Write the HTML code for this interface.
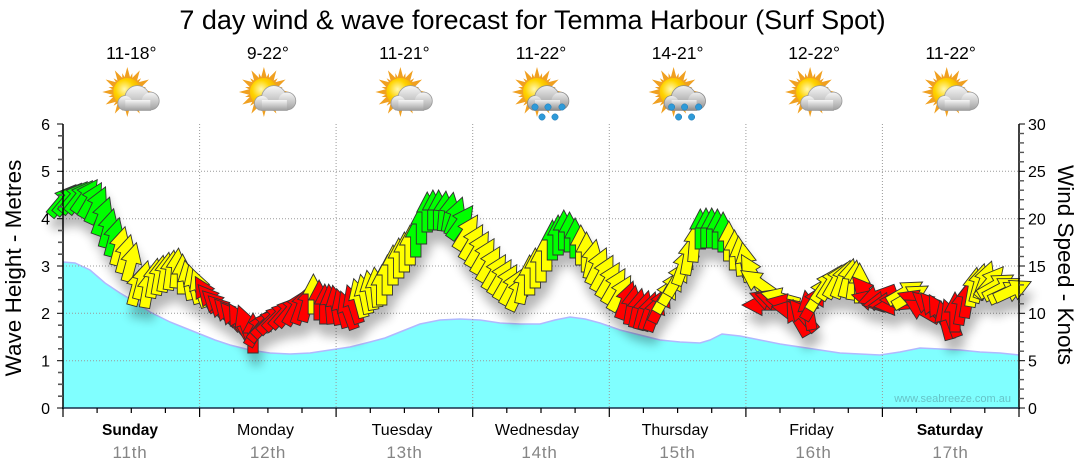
<!DOCTYPE html>
<html><head><meta charset="utf-8">
<style>
html,body{margin:0;padding:0;background:#fff;}
svg{display:block;}
text{font-family:"Liberation Sans",Arial,sans-serif;}
.g{fill:#00ff00}.y{fill:#ffff00}.r{fill:#ff0000}
</style></head><body>
<svg width="1080" height="475" viewBox="0 0 1080 475" xmlns="http://www.w3.org/2000/svg">
<defs>
<path id="a" d="M0,-20L10.5,0L5.2,0L5.2,20L-5.2,20L-5.2,0L-10.5,0Z"/>
<filter id="sh" x="-10%" y="-30%" width="120%" height="180%">
<feGaussianBlur in="SourceAlpha" stdDeviation="5"/>
<feOffset dx="3" dy="12" result="o"/>
<feComponentTransfer><feFuncA type="linear" slope="0.28"/></feComponentTransfer>
<feMerge><feMergeNode/><feMergeNode in="SourceGraphic"/></feMerge>
</filter>
<radialGradient id="sun" cx="0.4" cy="0.4" r="0.65"><stop offset="0" stop-color="#fff8b0"/><stop offset="0.5" stop-color="#ffd400"/><stop offset="1" stop-color="#f2a000"/></radialGradient>
<linearGradient id="cl" x1="0" y1="0" x2="0" y2="1"><stop offset="0" stop-color="#f6f6f6"/><stop offset="1" stop-color="#a2a2a2"/></linearGradient>
<linearGradient id="cl2" x1="0" y1="0" x2="0" y2="1"><stop offset="0" stop-color="#eeeeee"/><stop offset="1" stop-color="#8e8e8e"/></linearGradient>
<polygon id="st" points="0,-25 3.36,-12.56 12.5,-21.65 9.19,-9.19 21.65,-12.5 12.56,-3.36 25,0 12.56,3.36 21.65,12.5 9.19,9.19 12.5,21.65 3.36,12.56 0,25 -3.36,12.56 -12.5,21.65 -9.19,9.19 -21.65,12.5 -12.56,3.36 -25,0 -12.56,-3.36 -21.65,-12.5 -9.19,-9.19 -12.5,-21.65 -3.36,-12.56"/>
<g id="sunp">
<g transform="translate(-4,92)" fill="#f0a020">
<use href="#st"/>
<use href="#st" transform="rotate(15) scale(0.78)"/>
<circle r="14" fill="url(#sun)"/>
</g>
</g>
<g id="cld">
<circle cx="6" cy="98" r="12"/>
<circle cx="19" cy="101" r="8.5"/>
<circle cx="-6" cy="103" r="7"/>
<rect x="-6" y="100" width="25" height="10"/>
</g>
<g id="ic">
<use href="#sunp"/>
<use href="#cld" fill="#9a9a9a" stroke="#9a9a9a" stroke-width="1.6"/>
<use href="#cld" fill="url(#cl)"/>
</g>
<g id="icr">
<use href="#sunp"/>
<use href="#cld" fill="#8a8a8a" stroke="#8a8a8a" stroke-width="1.6"/>
<use href="#cld" fill="url(#cl2)"/>
<g fill="#2e9ad8" stroke="#1f78b4" stroke-width="0.5">
<circle cx="-6" cy="107" r="3.2"/><circle cx="7" cy="107" r="3.2"/><circle cx="21" cy="107" r="3.2"/>
<circle cx="1" cy="117" r="3.2"/><circle cx="14" cy="117" r="3.2"/>
</g>
</g>
</defs>

<!-- title -->
<text x="532.5" y="29" font-size="27" text-anchor="middle" fill="#000">7 day wind &amp; wave forecast for Temma Harbour (Surf Spot)</text>

<!-- temps -->
<g font-size="17.5" text-anchor="middle" fill="#000">
<text x="131.3" y="59">11-18°</text>
<text x="267.9" y="59">9-22°</text>
<text x="404.4" y="59">11-21°</text>
<text x="541" y="59">11-22°</text>
<text x="677.6" y="59">14-21°</text>
<text x="814.1" y="59">12-22°</text>
<text x="950.7" y="59">11-22°</text>
</g>

<!-- icons -->
<use href="#ic" x="131.3"/>
<use href="#ic" x="267.9"/>
<use href="#ic" x="404.4"/>
<use href="#icr" x="541"/>
<use href="#icr" x="677.6"/>
<use href="#ic" x="814.1"/>
<use href="#ic" x="950.7"/>

<!-- wave area -->
<path d="M63,262 L75,263 L90,270 L105,283 L120,293 L135,302 L150,312 L170,322 L185,328 L200,334 L215,340 L230,345 L250,350 L270,353 L290,354 L310,353 L330,350 L350,347 L370,342 L385,338 L400,332 L420,324 L440,320 L460,319 L480,320 L500,323 L520,324 L540,324 L555,320 L570,317 L585,319 L600,323 L620,330 L640,335 L660,340 L680,342 L700,343 L710,340 L722,334 L740,336 L760,340 L780,344 L800,347 L820,350 L840,353 L860,354 L880,355 L900,352 L920,348 L940,349 L960,350 L980,352 L1000,353 L1019,355 L1019,408 L63,408 Z" fill="#80ffff"/>
<polyline points="63,262 75,263 90,270 105,283 120,293 135,302 150,312 170,322 185,328 200,334 215,340 230,345 250,350 270,353 290,354 310,353 330,350 350,347 370,342 385,338 400,332 420,324 440,320 460,319 480,320 500,323 520,324 540,324 555,320 570,317 585,319 600,323 620,330 640,335 660,340 680,342 700,343 710,340 722,334 740,336 760,340 780,344 800,347 820,350 840,353 860,354 880,355 900,352 920,348 940,349 960,350 980,352 1000,353 1019,355" fill="none" stroke="#b0b8ff" stroke-width="1.5"/>

<!-- watermark -->
<text x="1011" y="402" font-size="11" text-anchor="end" fill="#66c4c8">www.seabreeze.com.au</text>

<!-- gridlines -->
<g stroke="#9a9a9a" stroke-width="1" stroke-dasharray="1,2" fill="none">
<line x1="63" y1="171.3" x2="1019" y2="171.3"/>
<line x1="63" y1="218.7" x2="1019" y2="218.7"/>
<line x1="63" y1="266" x2="1019" y2="266"/>
<line x1="63" y1="313.3" x2="1019" y2="313.3"/>
<line x1="63" y1="360.7" x2="1019" y2="360.7"/>
<line x1="199.6" y1="124" x2="199.6" y2="408"/>
<line x1="336.1" y1="124" x2="336.1" y2="408"/>
<line x1="472.7" y1="124" x2="472.7" y2="408"/>
<line x1="609.3" y1="124" x2="609.3" y2="408"/>
<line x1="745.9" y1="124" x2="745.9" y2="408"/>
<line x1="882.4" y1="124" x2="882.4" y2="408"/>
</g>

<!-- wind arrows -->
<g filter="url(#sh)" stroke="#333" stroke-width="0.9" stroke-linejoin="miter">
<use href="#a" class="g" transform="translate(63,200) rotate(40)"/>
<use href="#a" class="g" transform="translate(68.7,198.5) rotate(40)"/>
<use href="#a" class="g" transform="translate(74.4,197) rotate(40)"/>
<use href="#a" class="g" transform="translate(80.1,196.5) rotate(38)"/>
<use href="#a" class="g" transform="translate(85.8,196) rotate(35)"/>
<use href="#a" class="g" transform="translate(91.5,200) rotate(30)"/>
<use href="#a" class="g" transform="translate(97.1,205) rotate(25)"/>
<use href="#a" class="g" transform="translate(102.8,216) rotate(20)"/>
<use href="#a" class="g" transform="translate(108.5,228) rotate(15)"/>
<use href="#a" class="g" transform="translate(114.2,237) rotate(15)"/>
<use href="#a" class="y" transform="translate(119.9,246) rotate(15)"/>
<use href="#a" class="y" transform="translate(125.6,254) rotate(15)"/>
<use href="#a" class="y" transform="translate(131.3,262) rotate(15)"/>
<use href="#a" class="y" transform="translate(137,286) rotate(15)"/>
<use href="#a" class="y" transform="translate(142.7,280) rotate(15)"/>
<use href="#a" class="y" transform="translate(148,288) rotate(10)"/>
<use href="#a" class="y" transform="translate(154,278) rotate(10)"/>
<use href="#a" class="y" transform="translate(159.7,275) rotate(10)"/>
<use href="#a" class="y" transform="translate(165.4,272) rotate(10)"/>
<use href="#a" class="y" transform="translate(171.1,270) rotate(8)"/>
<use href="#a" class="y" transform="translate(176.8,268) rotate(5)"/>
<use href="#a" class="y" transform="translate(182.5,274) rotate(0)"/>
<use href="#a" class="y" transform="translate(188.2,280) rotate(-10)"/>
<use href="#a" class="y" transform="translate(193.9,284) rotate(-15)"/>
<use href="#a" class="y" transform="translate(199.6,288) rotate(-20)"/>
<use href="#a" class="r" transform="translate(205.3,294) rotate(-30)"/>
<use href="#a" class="r" transform="translate(211,300) rotate(-40)"/>
<use href="#a" class="r" transform="translate(216.6,305) rotate(-45)"/>
<use href="#a" class="r" transform="translate(222.3,310) rotate(-45)"/>
<use href="#a" class="r" transform="translate(228,314) rotate(-42)"/>
<use href="#a" class="r" transform="translate(233.7,318) rotate(-40)"/>
<use href="#a" class="r" transform="translate(239.4,321) rotate(-30)"/>
<use href="#a" class="r" transform="translate(245.1,324) rotate(-20)"/>
<use href="#a" class="r" transform="translate(253,333) rotate(0)"/>
<use href="#a" class="r" transform="translate(258,328) rotate(30)"/>
<use href="#a" class="r" transform="translate(263,325) rotate(40)"/>
<use href="#a" class="r" transform="translate(267.9,322) rotate(45)"/>
<use href="#a" class="r" transform="translate(273.5,318) rotate(45)"/>
<use href="#a" class="r" transform="translate(279.2,315) rotate(45)"/>
<use href="#a" class="r" transform="translate(285,312) rotate(42)"/>
<use href="#a" class="r" transform="translate(290.6,310) rotate(40)"/>
<use href="#a" class="r" transform="translate(296.3,307) rotate(30)"/>
<use href="#a" class="r" transform="translate(302,305) rotate(20)"/>
<use href="#a" class="r" transform="translate(307.7,302) rotate(15)"/>
<use href="#a" class="y" transform="translate(313.4,294) rotate(0)"/>
<use href="#a" class="r" transform="translate(319.1,300) rotate(0)"/>
<use href="#a" class="r" transform="translate(324.8,304) rotate(0)"/>
<use href="#a" class="r" transform="translate(330.4,304) rotate(-5)"/>
<use href="#a" class="r" transform="translate(336.1,305) rotate(-10)"/>
<use href="#a" class="r" transform="translate(341.8,308) rotate(-15)"/>
<use href="#a" class="r" transform="translate(347.5,310) rotate(-20)"/>
<use href="#a" class="r" transform="translate(353.2,304) rotate(-18)"/>
<use href="#a" class="y" transform="translate(358.9,298) rotate(-15)"/>
<use href="#a" class="y" transform="translate(364.6,294) rotate(-12)"/>
<use href="#a" class="y" transform="translate(370.3,290) rotate(-10)"/>
<use href="#a" class="y" transform="translate(376,287) rotate(-5)"/>
<use href="#a" class="y" transform="translate(381.7,285) rotate(0)"/>
<use href="#a" class="y" transform="translate(387.3,275) rotate(0)"/>
<use href="#a" class="y" transform="translate(393,265) rotate(0)"/>
<use href="#a" class="y" transform="translate(398.7,258) rotate(0)"/>
<use href="#a" class="y" transform="translate(404.4,252) rotate(0)"/>
<use href="#a" class="y" transform="translate(410.1,245) rotate(0)"/>
<use href="#a" class="g" transform="translate(415.8,237) rotate(0)"/>
<use href="#a" class="g" transform="translate(421.5,224) rotate(0)"/>
<use href="#a" class="g" transform="translate(427.2,212) rotate(0)"/>
<use href="#a" class="g" transform="translate(432.9,210) rotate(0)"/>
<use href="#a" class="g" transform="translate(438.6,210) rotate(0)"/>
<use href="#a" class="g" transform="translate(444.2,211) rotate(5)"/>
<use href="#a" class="g" transform="translate(449.9,212) rotate(10)"/>
<use href="#a" class="g" transform="translate(455.6,216) rotate(20)"/>
<use href="#a" class="g" transform="translate(461.3,222) rotate(35)"/>
<use href="#a" class="y" transform="translate(467,232) rotate(32)"/>
<use href="#a" class="y" transform="translate(472.7,242) rotate(30)"/>
<use href="#a" class="y" transform="translate(478.4,249) rotate(30)"/>
<use href="#a" class="y" transform="translate(484.1,256) rotate(30)"/>
<use href="#a" class="y" transform="translate(489.8,264) rotate(30)"/>
<use href="#a" class="y" transform="translate(495.5,272) rotate(30)"/>
<use href="#a" class="y" transform="translate(501.1,277) rotate(30)"/>
<use href="#a" class="y" transform="translate(506.8,282) rotate(30)"/>
<use href="#a" class="y" transform="translate(512.5,287) rotate(28)"/>
<use href="#a" class="y" transform="translate(518.2,292) rotate(25)"/>
<use href="#a" class="y" transform="translate(523.9,284) rotate(12)"/>
<use href="#a" class="y" transform="translate(529.6,275) rotate(0)"/>
<use href="#a" class="y" transform="translate(535.3,268) rotate(0)"/>
<use href="#a" class="y" transform="translate(541,262) rotate(0)"/>
<use href="#a" class="y" transform="translate(546.7,251) rotate(0)"/>
<use href="#a" class="g" transform="translate(552.4,240) rotate(0)"/>
<use href="#a" class="g" transform="translate(558.1,235) rotate(0)"/>
<use href="#a" class="g" transform="translate(563.8,230) rotate(0)"/>
<use href="#a" class="g" transform="translate(569.5,232) rotate(0)"/>
<use href="#a" class="g" transform="translate(575.1,238) rotate(0)"/>
<use href="#a" class="y" transform="translate(580.8,245) rotate(0)"/>
<use href="#a" class="y" transform="translate(586.5,252) rotate(0)"/>
<use href="#a" class="y" transform="translate(592.2,259) rotate(12)"/>
<use href="#a" class="y" transform="translate(597.9,266) rotate(25)"/>
<use href="#a" class="y" transform="translate(603.6,273) rotate(28)"/>
<use href="#a" class="y" transform="translate(609.3,280) rotate(30)"/>
<use href="#a" class="y" transform="translate(615,286) rotate(30)"/>
<use href="#a" class="y" transform="translate(620.7,293) rotate(30)"/>
<use href="#a" class="r" transform="translate(626.3,300) rotate(20)"/>
<use href="#a" class="r" transform="translate(632,305) rotate(10)"/>
<use href="#a" class="r" transform="translate(637.7,308) rotate(12)"/>
<use href="#a" class="r" transform="translate(643.4,310) rotate(15)"/>
<use href="#a" class="r" transform="translate(649.1,311) rotate(18)"/>
<use href="#a" class="r" transform="translate(654.8,312) rotate(20)"/>
<use href="#a" class="r" transform="translate(660.5,304) rotate(25)"/>
<use href="#a" class="y" transform="translate(666.2,295) rotate(30)"/>
<use href="#a" class="y" transform="translate(671.9,287) rotate(30)"/>
<use href="#a" class="y" transform="translate(677.6,278) rotate(30)"/>
<use href="#a" class="y" transform="translate(683.2,266) rotate(20)"/>
<use href="#a" class="y" transform="translate(688.9,255) rotate(10)"/>
<use href="#a" class="y" transform="translate(694.6,242) rotate(5)"/>
<use href="#a" class="g" transform="translate(700.3,229) rotate(0)"/>
<use href="#a" class="g" transform="translate(706,228) rotate(0)"/>
<use href="#a" class="g" transform="translate(711.7,228) rotate(0)"/>
<use href="#a" class="g" transform="translate(717.4,229) rotate(0)"/>
<use href="#a" class="g" transform="translate(723.1,232) rotate(0)"/>
<use href="#a" class="y" transform="translate(728.8,241) rotate(0)"/>
<use href="#a" class="y" transform="translate(734.5,250) rotate(0)"/>
<use href="#a" class="y" transform="translate(740.1,256) rotate(-5)"/>
<use href="#a" class="y" transform="translate(745.8,262) rotate(-10)"/>
<use href="#a" class="y" transform="translate(751.5,272) rotate(-30)"/>
<use href="#a" class="y" transform="translate(757.2,282) rotate(-55)"/>
<use href="#a" class="r" transform="translate(762,305) rotate(-90)"/>
<use href="#a" class="r" transform="translate(768.6,300) rotate(-70)"/>
<use href="#a" class="r" transform="translate(774.3,300) rotate(-72)"/>
<use href="#a" class="y" transform="translate(780,298) rotate(-75)"/>
<use href="#a" class="r" transform="translate(785.7,304) rotate(-78)"/>
<use href="#a" class="r" transform="translate(791.4,310) rotate(-80)"/>
<use href="#a" class="r" transform="translate(797,318) rotate(-30)"/>
<use href="#a" class="r" transform="translate(802.7,315) rotate(-40)"/>
<use href="#a" class="r" transform="translate(808.4,310) rotate(-10)"/>
<use href="#a" class="r" transform="translate(814.1,302) rotate(30)"/>
<use href="#a" class="y" transform="translate(819.8,293) rotate(32)"/>
<use href="#a" class="y" transform="translate(825.5,285) rotate(35)"/>
<use href="#a" class="y" transform="translate(831.2,282) rotate(32)"/>
<use href="#a" class="y" transform="translate(836.9,280) rotate(30)"/>
<use href="#a" class="y" transform="translate(842.6,279) rotate(22)"/>
<use href="#a" class="y" transform="translate(848.3,278) rotate(15)"/>
<use href="#a" class="y" transform="translate(854,280) rotate(8)"/>
<use href="#a" class="y" transform="translate(859.6,283) rotate(0)"/>
<use href="#a" class="r" transform="translate(865.3,292) rotate(-40)"/>
<use href="#a" class="r" transform="translate(871,300) rotate(-75)"/>
<use href="#a" class="r" transform="translate(877,296) rotate(-110)"/>
<use href="#a" class="r" transform="translate(882.4,302) rotate(-100)"/>
<use href="#a" class="r" transform="translate(888.1,303) rotate(-98)"/>
<use href="#a" class="r" transform="translate(893.8,305) rotate(-95)"/>
<use href="#a" class="r" transform="translate(899.5,300) rotate(-90)"/>
<use href="#a" class="y" transform="translate(905.2,292) rotate(60)"/>
<use href="#a" class="y" transform="translate(910.9,296) rotate(60)"/>
<use href="#a" class="r" transform="translate(916.5,300) rotate(-70)"/>
<use href="#a" class="r" transform="translate(922,310) rotate(-60)"/>
<use href="#a" class="r" transform="translate(927.9,305) rotate(-50)"/>
<use href="#a" class="r" transform="translate(933.6,308) rotate(-40)"/>
<use href="#a" class="r" transform="translate(939.3,312) rotate(-30)"/>
<use href="#a" class="r" transform="translate(945,320) rotate(-15)"/>
<use href="#a" class="r" transform="translate(950.7,318) rotate(-20)"/>
<use href="#a" class="r" transform="translate(955,312) rotate(0)"/>
<use href="#a" class="r" transform="translate(962.1,305) rotate(10)"/>
<use href="#a" class="r" transform="translate(967.8,298) rotate(10)"/>
<use href="#a" class="y" transform="translate(973.4,287) rotate(10)"/>
<use href="#a" class="y" transform="translate(979.1,283) rotate(15)"/>
<use href="#a" class="y" transform="translate(984.8,280) rotate(20)"/>
<use href="#a" class="y" transform="translate(990.5,282) rotate(40)"/>
<use href="#a" class="y" transform="translate(996.2,285) rotate(60)"/>
<use href="#a" class="y" transform="translate(1001.9,288) rotate(62)"/>
<use href="#a" class="y" transform="translate(1007.6,292) rotate(65)"/>
<use href="#a" class="y" transform="translate(1013,290) rotate(65)"/>
</g>

<!-- axes -->
<g stroke="#000" stroke-width="1.5">
<line x1="63" y1="124" x2="63" y2="409"/>
<line x1="1019" y1="124" x2="1019" y2="409"/>
</g>
<line x1="62" y1="408" x2="1020" y2="408" stroke="#1a2f4a" stroke-width="1.5"/>

<!-- left ticks -->
<g stroke="#000" stroke-width="1">
<line x1="57" y1="124" x2="63" y2="124"/><line x1="57" y1="171.3" x2="63" y2="171.3"/><line x1="57" y1="218.7" x2="63" y2="218.7"/><line x1="57" y1="266" x2="63" y2="266"/><line x1="57" y1="313.3" x2="63" y2="313.3"/><line x1="57" y1="360.7" x2="63" y2="360.7"/><line x1="57" y1="408" x2="63" y2="408"/>
</g>
<g stroke="#555" stroke-width="1.6">
<line x1="58" y1="135.8" x2="63" y2="135.8"/><line x1="58" y1="147.7" x2="63" y2="147.7"/><line x1="58" y1="159.5" x2="63" y2="159.5"/>
<line x1="58" y1="183.1" x2="63" y2="183.1"/><line x1="58" y1="195" x2="63" y2="195"/><line x1="58" y1="206.8" x2="63" y2="206.8"/>
<line x1="58" y1="230.5" x2="63" y2="230.5"/><line x1="58" y1="242.3" x2="63" y2="242.3"/><line x1="58" y1="254.2" x2="63" y2="254.2"/>
<line x1="58" y1="277.8" x2="63" y2="277.8"/><line x1="58" y1="289.7" x2="63" y2="289.7"/><line x1="58" y1="301.5" x2="63" y2="301.5"/>
<line x1="58" y1="325.2" x2="63" y2="325.2"/><line x1="58" y1="337" x2="63" y2="337"/><line x1="58" y1="348.8" x2="63" y2="348.8"/>
<line x1="58" y1="372.5" x2="63" y2="372.5"/><line x1="58" y1="384.3" x2="63" y2="384.3"/><line x1="58" y1="396.2" x2="63" y2="396.2"/>
</g>

<!-- right ticks -->
<g stroke="#000" stroke-width="1">
<line x1="1019" y1="124" x2="1025" y2="124"/><line x1="1019" y1="171.3" x2="1025" y2="171.3"/><line x1="1019" y1="218.7" x2="1025" y2="218.7"/><line x1="1019" y1="266" x2="1025" y2="266"/><line x1="1019" y1="313.3" x2="1025" y2="313.3"/><line x1="1019" y1="360.7" x2="1025" y2="360.7"/><line x1="1019" y1="408" x2="1025" y2="408"/>
</g>
<g stroke="#555" stroke-width="1.4">
<line x1="1019" y1="133.5" x2="1024" y2="133.5"/><line x1="1019" y1="142.9" x2="1024" y2="142.9"/><line x1="1019" y1="152.4" x2="1024" y2="152.4"/><line x1="1019" y1="161.8" x2="1024" y2="161.8"/>
<line x1="1019" y1="180.8" x2="1024" y2="180.8"/><line x1="1019" y1="190.2" x2="1024" y2="190.2"/><line x1="1019" y1="199.7" x2="1024" y2="199.7"/><line x1="1019" y1="209.2" x2="1024" y2="209.2"/>
<line x1="1019" y1="228.1" x2="1024" y2="228.1"/><line x1="1019" y1="237.6" x2="1024" y2="237.6"/><line x1="1019" y1="247.1" x2="1024" y2="247.1"/><line x1="1019" y1="256.5" x2="1024" y2="256.5"/>
<line x1="1019" y1="275.5" x2="1024" y2="275.5"/><line x1="1019" y1="284.9" x2="1024" y2="284.9"/><line x1="1019" y1="294.4" x2="1024" y2="294.4"/><line x1="1019" y1="303.8" x2="1024" y2="303.8"/>
<line x1="1019" y1="322.8" x2="1024" y2="322.8"/><line x1="1019" y1="332.2" x2="1024" y2="332.2"/><line x1="1019" y1="341.7" x2="1024" y2="341.7"/><line x1="1019" y1="351.2" x2="1024" y2="351.2"/>
<line x1="1019" y1="370.1" x2="1024" y2="370.1"/><line x1="1019" y1="379.6" x2="1024" y2="379.6"/><line x1="1019" y1="389.1" x2="1024" y2="389.1"/><line x1="1019" y1="398.5" x2="1024" y2="398.5"/>
</g>

<!-- bottom ticks -->
<g stroke="#000" stroke-width="1.2">
<line x1="63" y1="408" x2="63" y2="417"/><line x1="199.6" y1="408" x2="199.6" y2="417"/><line x1="336.1" y1="408" x2="336.1" y2="417"/><line x1="472.7" y1="408" x2="472.7" y2="417"/><line x1="609.3" y1="408" x2="609.3" y2="417"/><line x1="745.9" y1="408" x2="745.9" y2="417"/><line x1="882.4" y1="408" x2="882.4" y2="417"/><line x1="1019" y1="408" x2="1019" y2="417"/>
<line x1="97.1" y1="408" x2="97.1" y2="413"/><line x1="131.3" y1="408" x2="131.3" y2="413"/><line x1="165.4" y1="408" x2="165.4" y2="413"/>
<line x1="233.7" y1="408" x2="233.7" y2="413"/><line x1="267.9" y1="408" x2="267.9" y2="413"/><line x1="302" y1="408" x2="302" y2="413"/>
<line x1="370.3" y1="408" x2="370.3" y2="413"/><line x1="404.4" y1="408" x2="404.4" y2="413"/><line x1="438.6" y1="408" x2="438.6" y2="413"/>
<line x1="506.8" y1="408" x2="506.8" y2="413"/><line x1="541" y1="408" x2="541" y2="413"/><line x1="575.1" y1="408" x2="575.1" y2="413"/>
<line x1="643.4" y1="408" x2="643.4" y2="413"/><line x1="677.6" y1="408" x2="677.6" y2="413"/><line x1="711.7" y1="408" x2="711.7" y2="413"/>
<line x1="780" y1="408" x2="780" y2="413"/><line x1="814.1" y1="408" x2="814.1" y2="413"/><line x1="848.3" y1="408" x2="848.3" y2="413"/>
<line x1="916.5" y1="408" x2="916.5" y2="413"/><line x1="950.7" y1="408" x2="950.7" y2="413"/><line x1="984.8" y1="408" x2="984.8" y2="413"/>
</g>

<!-- axis labels -->
<g font-size="16" fill="#000" text-anchor="end">
<text x="50" y="130">6</text><text x="50" y="177">5</text><text x="50" y="224.5">4</text><text x="50" y="272">3</text><text x="50" y="319">2</text><text x="50" y="366.5">1</text><text x="50" y="414">0</text>
</g>
<g font-size="16" fill="#000" text-anchor="start">
<text x="1028" y="130">30</text><text x="1028" y="177">25</text><text x="1028" y="224.5">20</text><text x="1028" y="272">15</text><text x="1028" y="319">10</text><text x="1028" y="366.5">5</text><text x="1028" y="414">0</text>
</g>

<text transform="translate(21,268) rotate(-90)" font-size="22.5" text-anchor="middle" fill="#000">Wave Height - Metres</text>
<text transform="translate(1058,265) rotate(90)" font-size="22.5" text-anchor="middle" fill="#000">Wind Speed - Knots</text>

<!-- day labels -->
<g font-size="16" fill="#000" text-anchor="middle">
<text x="130" y="435" font-weight="bold" font-size="15.5">Sunday</text>
<text x="265.5" y="435">Monday</text>
<text x="402" y="435">Tuesday</text>
<text x="537" y="435">Wednesday</text>
<text x="675" y="435">Thursday</text>
<text x="811.5" y="435">Friday</text>
<text x="950" y="435" font-weight="bold" font-size="15.5">Saturday</text>
</g>
<g font-size="17" fill="#858585" text-anchor="middle" letter-spacing="0.8">
<text x="130" y="458">11th</text>
<text x="268" y="458">12th</text>
<text x="404.5" y="458">13th</text>
<text x="539.5" y="458">14th</text>
<text x="677.5" y="458">15th</text>
<text x="813.5" y="458">16th</text>
<text x="950.5" y="458">17th</text>
</g>
</svg>
</body></html>
